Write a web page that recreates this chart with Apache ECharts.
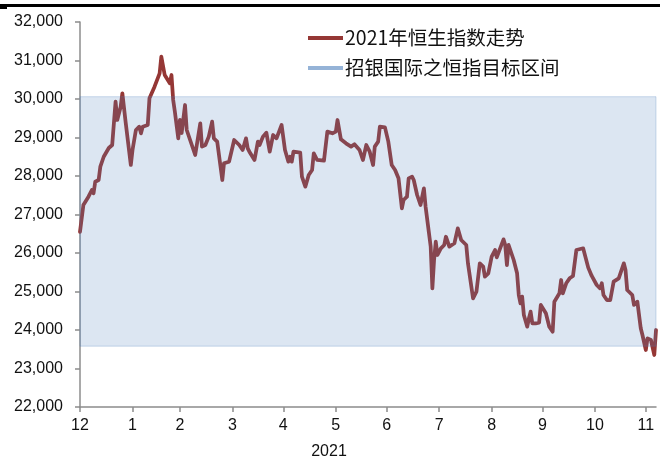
<!DOCTYPE html>
<html><head><meta charset="utf-8">
<script src="https://cdn.jsdelivr.net/npm/echarts@6/dist/echarts.min.js"></script>
<style>html,body{margin:0;padding:0;background:#fff}#c{width:660px;height:459px}</style>
</head><body><div id="c"></div>
<script>
// ---- data ----
const dates = [
 '2021-01-01','2021-01-03','2021-01-06','2021-01-08','2021-01-09','2021-01-10','2021-01-12','2021-01-13','2021-01-15','2021-01-18',
 '2021-01-20','2021-01-22','2021-01-23','2021-01-25','2021-01-26','2021-01-28','2021-01-31','2021-02-01','2021-02-03','2021-02-05',
 '2021-02-06','2021-02-07','2021-02-10','2021-02-11','2021-02-14','2021-02-17','2021-02-18','2021-02-20','2021-02-23','2021-02-24',
 '2021-02-25','2021-02-26','2021-02-28','2021-03-01','2021-03-02','2021-03-04','2021-03-05','2021-03-07','2021-03-10','2021-03-13',
 '2021-03-14','2021-03-16','2021-03-18','2021-03-20','2021-03-21','2021-03-23','2021-03-26','2021-03-27','2021-03-30','2021-03-31',
 '2021-04-02','2021-04-05','2021-04-07','2021-04-09','2021-04-10','2021-04-11','2021-04-14','2021-04-16','2021-04-17','2021-04-19',
 '2021-04-21','2021-04-23','2021-04-25','2021-04-27','2021-04-30','2021-05-02','2021-05-04','2021-05-05','2021-05-06','2021-05-07',
 '2021-05-11','2021-05-12','2021-05-13','2021-05-14','2021-05-16','2021-05-18','2021-05-19','2021-05-21','2021-05-25','2021-05-27',
 '2021-05-30','2021-06-01','2021-06-02','2021-06-04','2021-06-07','2021-06-10','2021-06-12','2021-06-15','2021-06-17','2021-06-19',
 '2021-06-21','2021-06-23','2021-06-24','2021-06-26','2021-06-27','2021-06-30','2021-07-01','2021-07-02','2021-07-04','2021-07-06',
 '2021-07-08','2021-07-10','2021-07-11','2021-07-13','2021-07-14','2021-07-16','2021-07-17','2021-07-19','2021-07-21','2021-07-22',
 '2021-07-23','2021-07-24','2021-07-26','2021-07-27','2021-07-28','2021-07-29','2021-07-30','2021-07-31','2021-08-02','2021-08-04',
 '2021-08-05','2021-08-07','2021-08-10','2021-08-12','2021-08-14','2021-08-17','2021-08-18','2021-08-19','2021-08-21','2021-08-23',
 '2021-08-25','2021-08-27','2021-08-28','2021-08-30','2021-09-01','2021-09-03','2021-09-04','2021-09-06','2021-09-08','2021-09-09',
 '2021-09-10','2021-09-11','2021-09-14','2021-09-16','2021-09-17','2021-09-18','2021-09-19','2021-09-20','2021-09-22','2021-09-23',
 '2021-09-24','2021-09-25','2021-09-27','2021-09-29','2021-09-30','2021-10-03','2021-10-05','2021-10-07','2021-10-08','2021-10-11',
 '2021-10-12','2021-10-13','2021-10-15','2021-10-17','2021-10-19','2021-10-21','2021-10-22','2021-10-25','2021-10-26','2021-10-28',
 '2021-10-30','2021-11-02','2021-11-04','2021-11-05','2021-11-06','2021-11-08','2021-11-10','2021-11-12','2021-11-15','2021-11-16',
 '2021-11-18','2021-11-19','2021-11-20','2021-11-23','2021-11-24','2021-11-26','2021-11-28','2021-11-29','2021-12-01','2021-12-02',
 '2021-12-04','2021-12-06','2021-12-07'
];
const hsiValues = [
 26550,27247,27462,27636,27550,27852,27896,28242,28500,28727,
 28805,29930,29455,29800,30148,29377,28286,28675,29195,29280,
 29108,29280,29325,30018,30320,30667,31100,30623,30407,30623,
 29974,29670,28979,29455,29117,29844,29195,28935,28545,29368,
 28762,28805,29022,29411,28979,28892,27896,28329,28372,28329,
 28935,28805,28675,28979,28719,28632,28416,28892,28805,29022,
 29125,28632,29065,28979,29325,28675,28372,28500,28372,28632,
 28606,27983,28026,27723,28026,28156,28590,28416,28398,29152,
 29108,29152,29455,28953,28849,28762,28823,28675,28416,28805,
 28632,28286,28762,28892,29280,29264,29238,28892,28286,28156,
 27940,27161,27377,27462,27940,27983,27896,27506,27247,27203,
 27680,27203,26512,26166,25083,25818,26294,25948,26122,26208,
 26423,26166,26252,26641,26338,26208,25732,25732,24823,24995,
 25732,25645,25385,25470,25905,26078,25888,26122,26355,26208,
 25688,26208,25818,25472,24909,24693,24866,24390,24086,24303,
 24476,24174,24174,24190,24650,24433,24086,23956,24736,24953,
 25299,24953,25213,25342,25403,26078,26122,26122,26078,25620,
 25410,25169,25083,25213,24909,24779,24779,25255,25342,25385,
 25732,25558,25039,24909,24650,24736,24044,23870,23481,23784,
 23740,23351,24000
];
const tickDates = ['2021-01-01','2021-02-01','2021-03-01','2021-04-01','2021-05-01','2021-06-01',
                   '2021-07-01','2021-08-01','2021-09-01','2021-10-01','2021-11-01','2021-12-01'];
const tickLabels = ['12','1','2','3','4','5','6','7','8','9','10','11'];
const yMin = 22000, yMax = 32000, yStep = 1000;
const targetBand = [23580, 30060];
const xMinDate = '2021-01-01', xMaxDate = '2021-12-07';
const yearLabel = '2021';
const seriesNames = ['2021年恒生指数走势', '招银国际之恒指目标区间'];

// ---- build ----
function ts(s){ const p = s.split('-').map(Number); return Date.UTC(p[0], p[1]-1, p[2]); }
const tickTs = tickDates.map(ts);
const lineData = dates.map((d,i)=>[ts(d), hsiValues[i]]);

const chart = echarts.init(document.getElementById('c'), null, {renderer:'canvas'});
const axisColor = '#8c8c8c';
const font = '"Liberation Sans", Arial, sans-serif';
chart.setOption({
  animation: false,
  backgroundColor: '#fff',
  grid: {left: 80, top: 22, width: 576, height: 385, containLabel: false},
  legend: {
    orient: 'vertical', left: 308, top: 28, padding: 0,
    itemWidth: 35, itemHeight: 4, itemGap: 10,
    icon: 'rect',
    textStyle: {fontFamily: '"Noto Sans CJK SC", "Liberation Sans", sans-serif', fontSize: 19.5, color: '#111', lineHeight: 20, padding: [0,0,0,-3]},
    data: seriesNames
  },
  xAxis: {
    type: 'value', min: ts(xMinDate), max: ts(xMaxDate),
    axisLine: {lineStyle: {color: axisColor, width: 1.5}},
    axisTick: {show: true, length: 5, lineStyle: {color: axisColor, width: 1.5}, customValues: tickTs},
    axisLabel: {customValues: tickTs, color: '#111', fontSize: 16, fontFamily: font, margin: 11,
      formatter: function(v){ const i = tickTs.indexOf(v); return i >= 0 ? tickLabels[i] : ''; }},
    splitLine: {show: false}
  },
  yAxis: {
    type: 'value', min: yMin, max: yMax, interval: yStep,
    axisLine: {show: true, lineStyle: {color: axisColor, width: 1.5}},
    axisTick: {show: true, length: 5, lineStyle: {color: axisColor, width: 1.5}},
    axisLabel: {color: '#111', fontSize: 16, fontFamily: font, margin: 17,
      formatter: v => v.toLocaleString('en-US')},
    splitLine: {show: false}
  },
  series: [
    {
      name: seriesNames[0], type: 'line', z: 2, data: lineData,
      showSymbol: false, symbol: 'none', smooth: false,
      color: '#953735',
      lineStyle: {color: '#953735', width: 3.75, cap: 'round', join: 'round'}
    },
    {
      name: seriesNames[1], type: 'line', z: 5, data: [],
      color: '#95b3d7', symbol: 'none',
      markArea: {
        silent: true, z: 10,
        itemStyle: {color: 'rgba(79,129,189,0.2)', borderColor: 'rgba(79,129,189,0.28)', borderWidth: 1},
        data: [[{yAxis: targetBand[0]}, {yAxis: targetBand[1]}]]
      }
    }
  ],
  graphic: [
    {type: 'rect', shape: {x: 0, y: 4, width: 660, height: 3}, style: {fill: '#000'}, silent: true},
    {type: 'rect', shape: {x: 0, y: 7, width: 7, height: 2}, style: {fill: '#000'}, silent: true},
    {type: 'text', x: 329, y: 452, style: {text: yearLabel, fill: '#111', font: '16px ' + font, align: 'center', verticalAlign: 'middle'}}
  ]
});
</script></body></html>
